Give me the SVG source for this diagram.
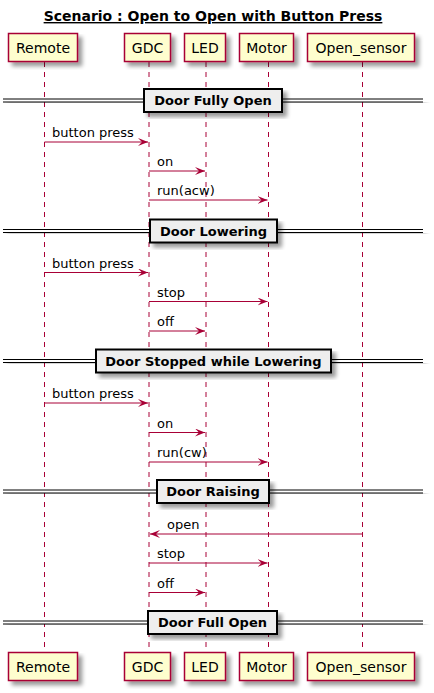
<svg xmlns="http://www.w3.org/2000/svg" width="434" height="693" viewBox="0 0 434 693">
<defs>
<filter id="sh" x="-10%" y="-10%" width="130%" height="140%">
<feGaussianBlur in="SourceAlpha" stdDeviation="2"/>
<feOffset dx="4" dy="4" result="b"/>
<feComponentTransfer in="b" result="c"><feFuncA type="linear" slope="0.4"/></feComponentTransfer>
<feMerge><feMergeNode in="c"/><feMergeNode in="SourceGraphic"/></feMerge>
</filter>
<marker id="ah" viewBox="0 0 10 8" refX="10" refY="4" markerWidth="10" markerHeight="8" markerUnits="userSpaceOnUse" orient="auto">
<path d="M0,0 L10,4 L0,8 L4,4 Z" fill="#A80036"/>
</marker>
</defs>
<style>
.p{fill:#FEFECE;stroke:#A80036;stroke-width:1.5}
.pt{font-family:"DejaVu Sans",sans-serif;font-size:14px;fill:#000;text-anchor:middle}
.ll{stroke:#A80036;stroke-width:1;stroke-dasharray:5,5}
.m{stroke:#A80036;stroke-width:1;fill:none}
.mt{font-family:"DejaVu Sans",sans-serif;font-size:13px;fill:#000}
.db{fill:#EEEEEE;stroke:#000;stroke-width:2}
.dl{stroke:#000;stroke-width:1}
.dt{font-family:"DejaVu Sans",sans-serif;font-size:13px;font-weight:bold;fill:#000;text-anchor:middle}
.tt{font-family:"DejaVu Sans",sans-serif;font-size:14px;font-weight:bold;fill:#000;text-anchor:middle}
</style>
<rect width="434" height="693" fill="#FFFFFF"/>
<text class="tt" x="213" y="21" text-decoration="underline">Scenario : Open to Open with Button Press</text>

<g id="lifelines">
<line class="ll" x1="44.5" y1="62" x2="44.5" y2="652"/>
<line class="ll" x1="149" y1="62" x2="149" y2="652"/>
<line class="ll" x1="206" y1="62" x2="206" y2="652"/>
<line class="ll" x1="268.5" y1="62" x2="268.5" y2="652"/>
<line class="ll" x1="362.5" y1="62" x2="362.5" y2="652"/>
</g>

<g id="Remote">
<rect class="p" filter="url(#sh)" x="8.5" y="33.5" width="69" height="28"/>
<text class="pt" x="43" y="53">Remote</text>
<rect class="p" filter="url(#sh)" x="8.5" y="652.5" width="69" height="28"/>
<text class="pt" x="43" y="672">Remote</text>
</g>
<g id="GDC">
<rect class="p" filter="url(#sh)" x="124.5" y="33.5" width="46" height="28"/>
<text class="pt" x="147.5" y="53">GDC</text>
<rect class="p" filter="url(#sh)" x="124.5" y="652.5" width="46" height="28"/>
<text class="pt" x="147.5" y="672">GDC</text>
</g>
<g id="LED">
<rect class="p" filter="url(#sh)" x="184.5" y="33.5" width="41" height="28"/>
<text class="pt" x="205" y="53">LED</text>
<rect class="p" filter="url(#sh)" x="184.5" y="652.5" width="41" height="28"/>
<text class="pt" x="205" y="672">LED</text>
</g>
<g id="Motor">
<rect class="p" filter="url(#sh)" x="239.5" y="33.5" width="54" height="28"/>
<text class="pt" x="266.5" y="53">Motor</text>
<rect class="p" filter="url(#sh)" x="239.5" y="652.5" width="54" height="28"/>
<text class="pt" x="266.5" y="672">Motor</text>
</g>
<g id="Open_sensor">
<rect class="p" filter="url(#sh)" x="307.5" y="33.5" width="107" height="28"/>
<text class="pt" x="361" y="53">Open_sensor</text>
<rect class="p" filter="url(#sh)" x="307.5" y="652.5" width="107" height="28"/>
<text class="pt" x="361" y="672">Open_sensor</text>
</g>

<g id="dividers">
<g id="div1">
<rect x="3" y="99" width="420" height="3" fill="#FFFFFF" filter="url(#sh)"/>
<line class="dl" x1="3" y1="99" x2="423" y2="99"/><line class="dl" x1="3" y1="102" x2="423" y2="102"/>
<rect class="db" filter="url(#sh)" x="144" y="89" width="138" height="23"/>
<text class="dt" x="213" y="105">Door Fully Open</text>
</g>
<g id="div2">
<rect x="3" y="229.5" width="420" height="3" fill="#FFFFFF" filter="url(#sh)"/>
<line class="dl" x1="3" y1="229.5" x2="423" y2="229.5"/><line class="dl" x1="3" y1="232.5" x2="423" y2="232.5"/>
<rect class="db" filter="url(#sh)" x="150" y="219.5" width="127" height="23"/>
<text class="dt" x="213.5" y="235.5">Door Lowering</text>
</g>
<g id="div3">
<rect x="3" y="359.5" width="420" height="3" fill="#FFFFFF" filter="url(#sh)"/>
<line class="dl" x1="3" y1="359.5" x2="423" y2="359.5"/><line class="dl" x1="3" y1="362.5" x2="423" y2="362.5"/>
<rect class="db" filter="url(#sh)" x="96" y="349.5" width="235" height="23"/>
<text class="dt" x="213.5" y="365.5">Door Stopped while Lowering</text>
</g>
<g id="div4">
<rect x="3" y="490" width="420" height="3" fill="#FFFFFF" filter="url(#sh)"/>
<line class="dl" x1="3" y1="490" x2="423" y2="490"/><line class="dl" x1="3" y1="493" x2="423" y2="493"/>
<rect class="db" filter="url(#sh)" x="157" y="480" width="112" height="23"/>
<text class="dt" x="213" y="496">Door Raising</text>
</g>
<g id="div5">
<rect x="3" y="621" width="420" height="3" fill="#FFFFFF" filter="url(#sh)"/>
<line class="dl" x1="3" y1="621" x2="423" y2="621"/><line class="dl" x1="3" y1="624" x2="423" y2="624"/>
<rect class="db" filter="url(#sh)" x="148" y="611" width="129" height="23"/>
<text class="dt" x="212.5" y="627">Door Full Open</text>
</g>
</g>

<g id="connectors">
<line class="m" marker-end="url(#ah)" x1="44.5" y1="142" x2="148" y2="142"/>
<text class="mt" x="52" y="137">button press</text>
<line class="m" marker-end="url(#ah)" x1="149" y1="171" x2="205" y2="171"/>
<text class="mt" x="157" y="166">on</text>
<line class="m" marker-end="url(#ah)" x1="149" y1="200" x2="267.5" y2="200"/>
<text class="mt" x="157" y="195">run(acw)</text>

<line class="m" marker-end="url(#ah)" x1="44.5" y1="272.5" x2="148" y2="272.5"/>
<text class="mt" x="52" y="267.5">button press</text>
<line class="m" marker-end="url(#ah)" x1="149" y1="301.5" x2="267.5" y2="301.5"/>
<text class="mt" x="157" y="296.5">stop</text>
<line class="m" marker-end="url(#ah)" x1="149" y1="331" x2="205" y2="331"/>
<text class="mt" x="157" y="326">off</text>

<line class="m" marker-end="url(#ah)" x1="44.5" y1="403" x2="148" y2="403"/>
<text class="mt" x="52" y="398">button press</text>
<line class="m" marker-end="url(#ah)" x1="149" y1="432.5" x2="205" y2="432.5"/>
<text class="mt" x="157" y="427.5">on</text>
<line class="m" marker-end="url(#ah)" x1="149" y1="462" x2="267.5" y2="462"/>
<text class="mt" x="157" y="457">run(cw)</text>

<line class="m" marker-end="url(#ah)" x1="362.5" y1="534" x2="150" y2="534"/>
<text class="mt" x="167" y="529">open</text>
<line class="m" marker-end="url(#ah)" x1="149" y1="563" x2="267.5" y2="563"/>
<text class="mt" x="157" y="558">stop</text>
<line class="m" marker-end="url(#ah)" x1="149" y1="592.5" x2="205" y2="592.5"/>
<text class="mt" x="157" y="587.5">off</text>
</g>
</svg>
